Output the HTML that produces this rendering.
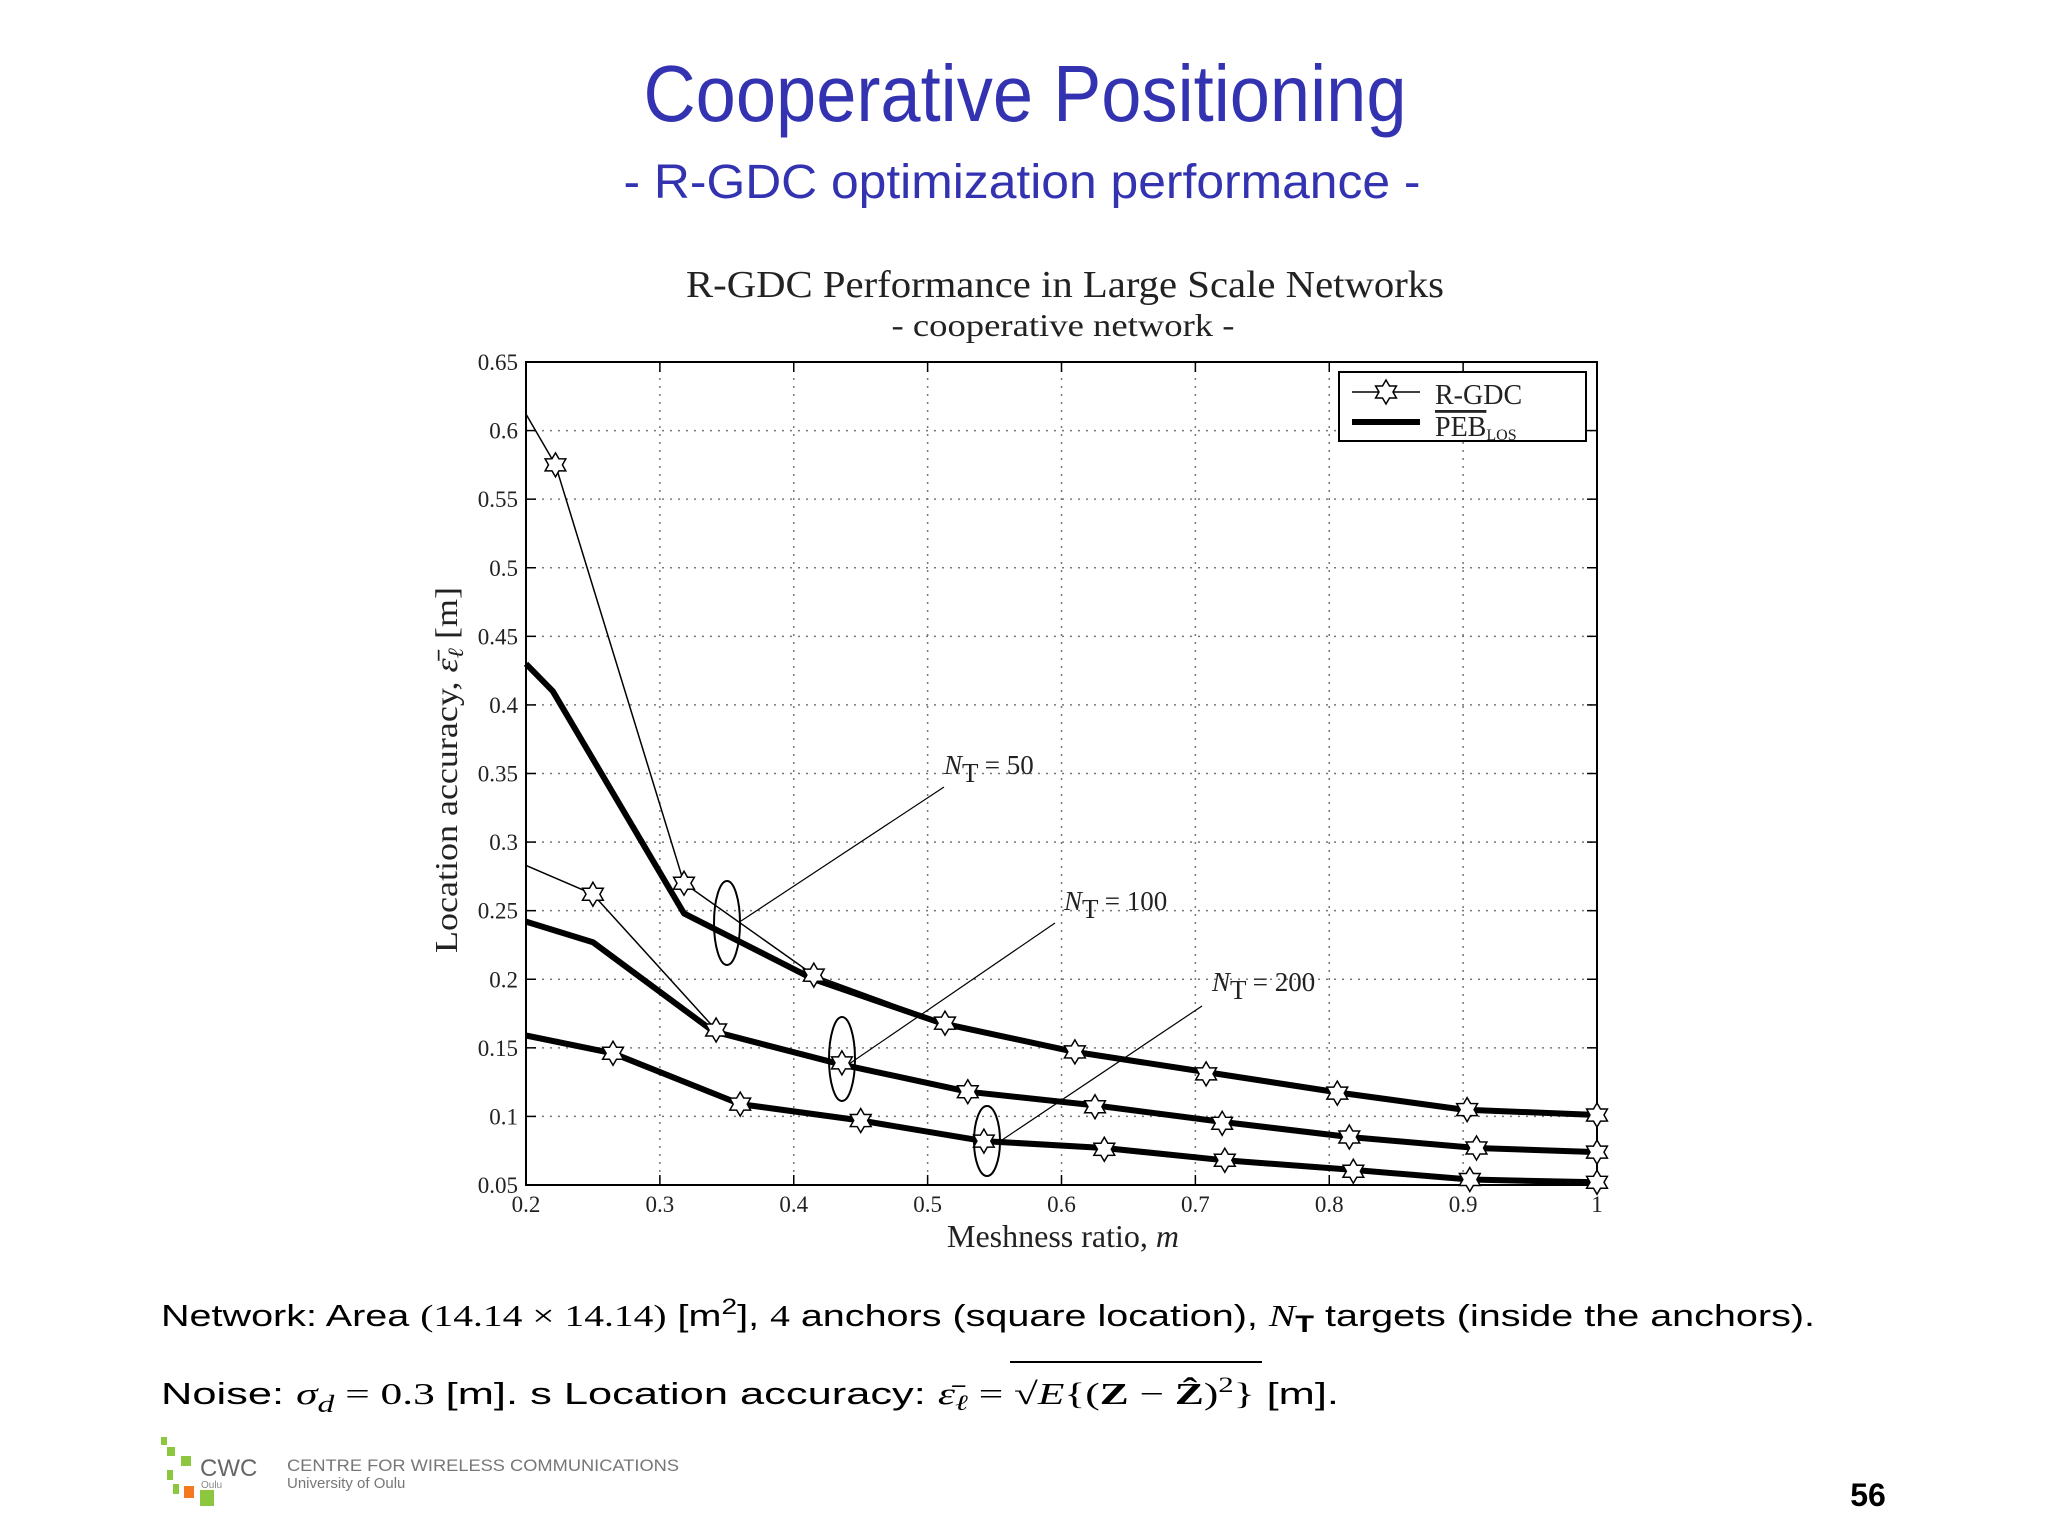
<!DOCTYPE html>
<html><head><meta charset="utf-8"><style>
html,body{margin:0;padding:0;background:#fff}
svg{display:block}
</style></head><body>
<svg id="s" width="2048" height="1536" viewBox="0 0 2048 1536" xmlns="http://www.w3.org/2000/svg">
<text x="1025" y="121" text-anchor="middle" font-family="Liberation Sans, sans-serif" font-size="80" fill="#3333b2" textLength="763" lengthAdjust="spacingAndGlyphs">Cooperative Positioning</text>
<text x="1022" y="198" text-anchor="middle" font-family="Liberation Sans, sans-serif" font-size="48" fill="#3333b2" textLength="797" lengthAdjust="spacingAndGlyphs">- R-GDC optimization performance -</text>
<text x="1065" y="297" text-anchor="middle" font-family="Liberation Serif, serif" font-size="38" fill="#222" textLength="758" lengthAdjust="spacingAndGlyphs">R-GDC Performance in Large Scale Networks</text>
<text x="1063" y="336" text-anchor="middle" font-family="Liberation Serif, serif" font-size="32" fill="#222" textLength="343" lengthAdjust="spacingAndGlyphs">- cooperative network -</text>
<g id="plot"></g>
<text x="1063" y="1247" text-anchor="middle" font-family="Liberation Serif, serif" font-size="32" fill="#222">Meshness ratio, <tspan font-style="italic">m</tspan></text>
<text transform="translate(457,770) rotate(-90)" text-anchor="middle" font-family="Liberation Serif, serif" font-size="32" fill="#222" textLength="366" lengthAdjust="spacingAndGlyphs">Location accuracy, <tspan font-style="italic">ε̄</tspan><tspan font-style="italic" font-size="22" dy="6">ℓ</tspan><tspan dy="-6"> [m]</tspan></text>
<text x="161" y="1326" font-family="Liberation Sans, sans-serif" font-size="31" fill="#000" textLength="1654" lengthAdjust="spacingAndGlyphs">Network: Area <tspan font-family="Liberation Serif, serif">(14.14 × 14.14)</tspan> [m<tspan dy="-12" font-size="22">2</tspan><tspan dy="12">], </tspan><tspan font-family="Liberation Serif, serif">4</tspan> anchors (square location), <tspan font-family="Liberation Serif, serif" font-style="italic">N</tspan><tspan font-weight="bold" dy="6" font-size="24">T</tspan><tspan dy="-6"> targets (inside the anchors).</tspan></text>
<text x="161" y="1404" font-family="Liberation Sans, sans-serif" font-size="31" fill="#000" textLength="1178" lengthAdjust="spacingAndGlyphs">Noise: <tspan font-family="Liberation Serif, serif" font-style="italic">σ</tspan><tspan font-family="Liberation Serif, serif" font-style="italic" dy="8" font-size="24">d</tspan><tspan dy="-8" font-family="Liberation Serif, serif"> = 0.3 </tspan>[m]. s Location accuracy: <tspan font-family="Liberation Serif, serif" font-style="italic">ε̄</tspan><tspan font-family="Liberation Serif, serif" font-style="italic" font-size="22" dy="6">ℓ</tspan><tspan dy="-6" font-family="Liberation Serif, serif"> = √</tspan><tspan font-family="Liberation Serif, serif" font-style="italic">E</tspan><tspan font-family="Liberation Serif, serif">{(<tspan font-weight="bold">Z</tspan> − <tspan font-weight="bold">Ẑ</tspan>)</tspan><tspan dy="-12" font-size="22" font-family="Liberation Serif, serif">2</tspan><tspan dy="12" font-family="Liberation Serif, serif">}</tspan> [m].</text>
<line x1="1010" y1="1362" x2="1262" y2="1362" stroke="#000" stroke-width="2"/>
<g>
<rect x="161" y="1437" width="6" height="8" fill="#8dc63f"/><rect x="167" y="1447" width="8" height="9" fill="#8dc63f"/><rect x="181" y="1456" width="10" height="10" fill="#8dc63f"/><rect x="167" y="1470" width="6" height="10" fill="#8dc63f"/><rect x="173" y="1484" width="6" height="10" fill="#8dc63f"/><rect x="184" y="1486" width="10" height="12" fill="#f47920"/><rect x="200" y="1490" width="14" height="16" fill="#8dc63f"/>
<text x="200" y="1476" font-family="Liberation Sans, sans-serif" font-size="24" fill="#666">CWC</text>
<text x="201" y="1488" font-family="Liberation Sans, sans-serif" font-size="10" fill="#888">Oulu</text>
<text x="287" y="1471" font-family="Liberation Sans, sans-serif" font-size="17" fill="#777" textLength="392" lengthAdjust="spacingAndGlyphs">CENTRE FOR WIRELESS COMMUNICATIONS</text>
<text x="287" y="1488" font-family="Liberation Sans, sans-serif" font-size="15" fill="#777">University of Oulu</text>
</g>
<text x="1868" y="1506" text-anchor="middle" font-family="Liberation Sans, sans-serif" font-size="32" font-weight="bold" fill="#000">56</text>
</svg>
<script>
const xTicks=[0.2,0.3,0.4,0.5,0.6,0.7,0.8,0.9,1];
const xTickLabels=['0.2','0.3','0.4','0.5','0.6','0.7','0.8','0.9','1'];
const yTicks=[0.05,0.1,0.15,0.2,0.25,0.3,0.35,0.4,0.45,0.5,0.55,0.6,0.65];
const yTickLabels=['0.05','0.1','0.15','0.2','0.25','0.3','0.35','0.4','0.45','0.5','0.55','0.6','0.65'];
const peb50x=[0.2,0.22,0.318,0.415,0.51,0.61,0.71,0.81,0.9,1];
const peb50y=[0.43,0.41,0.248,0.2,0.168,0.147,0.132,0.117,0.105,0.101];
const rgdc50x=[0.2,0.222,0.318,0.415,0.513,0.61,0.708,0.806,0.903,1];
const rgdc50y=[0.612,0.575,0.27,0.203,0.168,0.147,0.131,0.117,0.105,0.101];
const peb100x=[0.2,0.25,0.34,0.435,0.53,0.625,0.72,0.815,0.91,1];
const peb100y=[0.242,0.227,0.162,0.138,0.118,0.108,0.096,0.085,0.077,0.074];
const rgdc100x=[0.2,0.25,0.342,0.436,0.53,0.625,0.72,0.815,0.91,1];
const rgdc100y=[0.283,0.262,0.163,0.139,0.118,0.107,0.095,0.085,0.077,0.074];
const peb200x=[0.2,0.265,0.36,0.45,0.542,0.632,0.722,0.818,0.905,1];
const peb200y=[0.159,0.146,0.109,0.097,0.082,0.077,0.068,0.061,0.054,0.052];
const rgdc200x=[0.2,0.265,0.36,0.45,0.542,0.632,0.722,0.818,0.905,1];
const rgdc200y=[0.158,0.146,0.109,0.097,0.082,0.076,0.068,0.06,0.054,0.052];

const L=526,R=1597,T=362,B=1185;
const X=v=>L+(v-0.2)/(1-0.2)*(R-L);
const Y=v=>B-(v-0.05)/(0.65-0.05)*(B-T);
const NS='http://www.w3.org/2000/svg';
const g=document.getElementById('plot');
function mk(tag,a,parent){const e=document.createElementNS(NS,tag);for(const k in a)e.setAttribute(k,a[k]);(parent||g).appendChild(e);return e;}
function star(cx,cy,r){let p=[];for(let i=0;i<12;i++){const ang=Math.PI/2+i*Math.PI/6;const rr=i%2?r*0.58:r;p.push((cx+rr*Math.cos(ang)).toFixed(1)+','+(cy-rr*Math.sin(ang)).toFixed(1));}return p.join(' ');}

xTicks.forEach((t,i)=>{
  const gl=mk('line',{x1:X(t),x2:X(t),y1:T,y2:B,stroke:'#777','stroke-width':1.5,'stroke-dasharray':'2 6'});
  
  
  mk('line',{x1:X(t),x2:X(t),y1:B,y2:B-10,stroke:'#000','stroke-width':1.5});
  mk('line',{x1:X(t),x2:X(t),y1:T,y2:T+10,stroke:'#000','stroke-width':1.5});
  const tx=mk('text',{x:X(t),y:1212,'text-anchor':'middle','font-family':'Liberation Serif, serif','font-size':23,fill:'#222'});
  tx.textContent=xTickLabels[i];
  
  
});
yTicks.forEach((t,i)=>{
  const gl=mk('line',{x1:L,x2:R,y1:Y(t),y2:Y(t),stroke:'#777','stroke-width':1.5,'stroke-dasharray':'2 6'});
  
  
  mk('line',{x1:L,x2:L+10,y1:Y(t),y2:Y(t),stroke:'#000','stroke-width':1.5});
  mk('line',{x1:R,x2:R-10,y1:Y(t),y2:Y(t),stroke:'#000','stroke-width':1.5});
  const tx=mk('text',{x:518,y:Y(t)+8,'text-anchor':'end','font-family':'Liberation Serif, serif','font-size':23,fill:'#222'});
  tx.textContent=yTickLabels[i];
  
  
});
const fr=mk('rect',{x:L,y:T,width:R-L,height:B-T,fill:'none',stroke:'#000','stroke-width':2});



function pts(xs,ys){return xs.map((x,i)=>X(x).toFixed(1)+','+Y(ys[i]).toFixed(1)).join(' ');}
[[peb50x,peb50y,'peb-line-nt50'],[peb100x,peb100y,'peb-line-nt100'],[peb200x,peb200y,'peb-line-nt200']].forEach(s=>{
  const l=mk('polyline',{points:pts(s[0],s[1]),fill:'none',stroke:'#000','stroke-width':6,'stroke-linejoin':'round'});
  
  
});
[[rgdc50x,rgdc50y,'rgdc-line-nt50'],[rgdc100x,rgdc100y,'rgdc-line-nt100'],[rgdc200x,rgdc200y,'rgdc-line-nt200']].forEach(s=>{
  const l=mk('polyline',{points:pts(s[0],s[1]),fill:'none',stroke:'#000','stroke-width':1.5});
  
  
  s[0].forEach((x,i)=>{if(i===0)return;
    const m=mk('polygon',{points:star(X(x),Y(s[1][i]),12),fill:'#fff',stroke:'#000','stroke-width':1.5});
    
    
  });
});
const ann=[[727,923,13,42,741,921,944,787,944,774,'50'],[842,1059,13,42,849,1064,1055,923,1064,910,'100'],[987,1141,13,35,1002,1140,1202,1006,1212,991,'200']];
ann.forEach(a=>{
  const e=mk('ellipse',{cx:a[0],cy:a[1],rx:a[2],ry:a[3],fill:'none',stroke:'#000','stroke-width':2});
  
  
  mk('line',{x1:a[4],y1:a[5],x2:a[6],y2:a[7],stroke:'#000','stroke-width':1.2});
  const t=mk('text',{x:a[8],y:a[9],'font-family':'Liberation Serif, serif','font-size':27,fill:'#222'});
  t.innerHTML='<tspan font-style="italic">N</tspan><tspan dy="8">T</tspan><tspan dy="-8"> = '+a[10]+'</tspan>';
  
  
});
const lg=mk('g',{});


mk('rect',{x:1339,y:372,width:247,height:69,fill:'#fff',stroke:'#000','stroke-width':2},lg);
mk('line',{x1:1352,x2:1420,y1:392,y2:392,stroke:'#000','stroke-width':1.5},lg);
mk('polygon',{points:star(1386,392,12),fill:'#fff',stroke:'#000','stroke-width':1.5},lg);
mk('line',{x1:1352,x2:1420,y1:422,y2:422,stroke:'#000','stroke-width':6},lg);
const t1=mk('text',{x:1435,y:404,'font-family':'Liberation Serif, serif','font-size':28,fill:'#222'},lg);
t1.textContent='R-GDC';


const t2=mk('text',{x:1435,y:436,'font-family':'Liberation Serif, serif','font-size':28,fill:'#222'},lg);
t2.innerHTML='<tspan text-decoration="overline">PEB</tspan><tspan font-size="16" dy="4">LOS</tspan>';


</script>
</body></html>
